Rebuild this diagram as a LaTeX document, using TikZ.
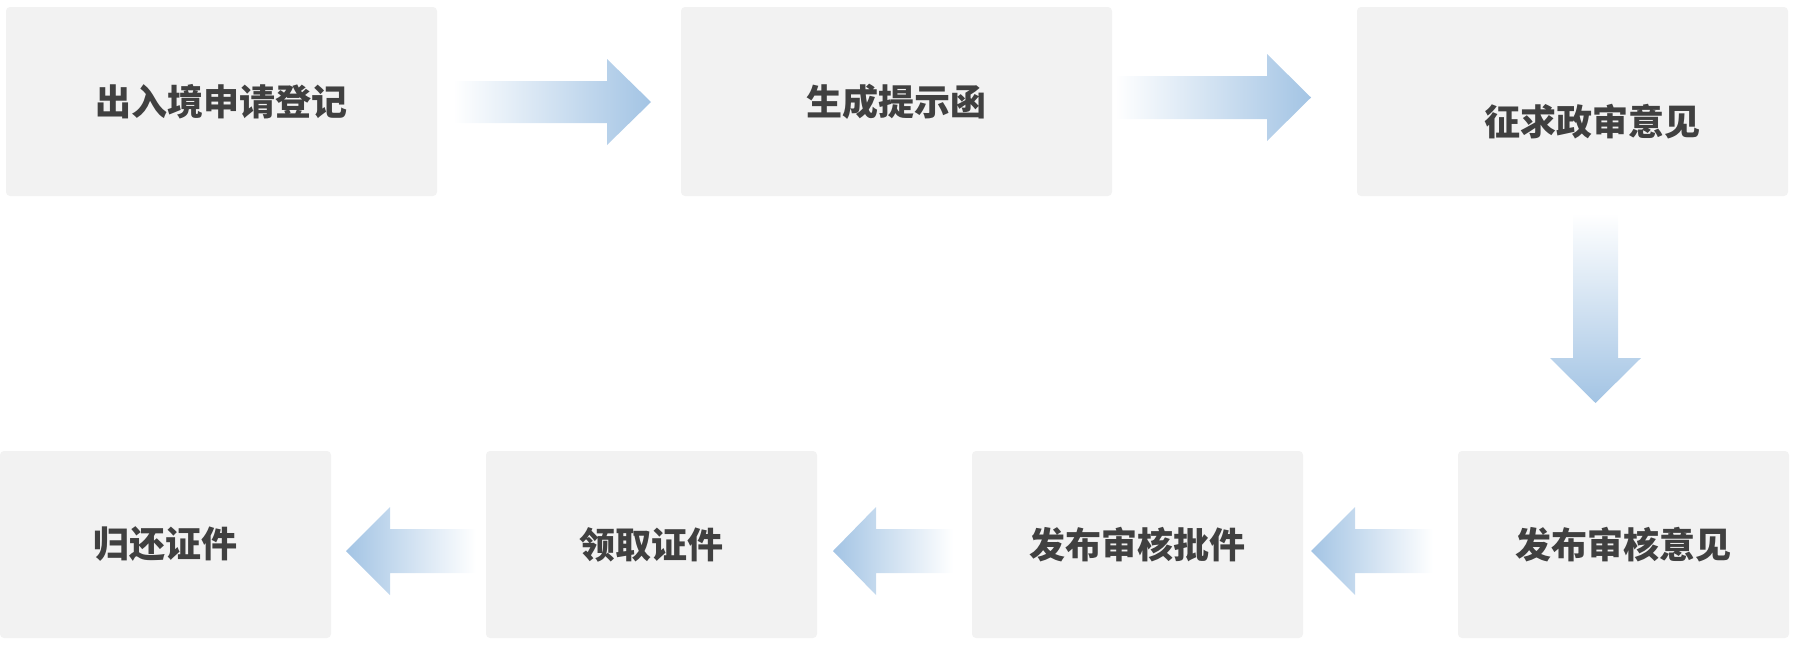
\documentclass[tikz,border=0pt]{standalone}
\usepackage{fontspec}
\newfontfamily\cjk{Noto Sans CJK SC}
\usepackage{tikz}
\usetikzlibrary{calc}

\definecolor{boxgray}{HTML}{F2F2F2}
\definecolor{txtgray}{HTML}{404040}
\definecolor{arrowblue}{HTML}{A3C4E4}

\begin{document}
\begin{tikzpicture}[x=1pt,y=-1pt,
  line join=miter,
  every node/.style={font=\cjk\bfseries\fontsize{36}{40}\selectfont,text=txtgray},
  stepbox/.style={fill=boxgray,rounded corners=4pt,inner sep=0pt},
  topbox/.style={stepbox,minimum width=431pt,minimum height=189pt},
  lowbox/.style={stepbox,minimum width=331pt,minimum height=187pt}]

  \useasboundingbox (0,0) rectangle (1794,656);

  % 上段
  \node[topbox] (reg)  at ( 221.5,101.5) {出入境申请登记};
  \node[topbox] (hint) at ( 896.5,101.5) {生成提示函};
  \node[topbox] (ask)  at (1572.5,101.5) {};
  \node         (askt) at ($(ask.center)+(20,20)$) {征求政审意见};

  % 下段
  \node[lowbox] (back) at ( 165.5,544.5) {归还证件};
  \node[lowbox] (take) at ( 651.5,544.5) {领取证件};
  \node[lowbox] (pass) at (1137.5,544.5) {发布审核批件};
  \node[lowbox] (opin) at (1623.5,544.5) {发布审核意见};

  % 右向き矢印
  \shade[left color=white,right color=arrowblue]
    (453,81) -- (607,81) -- (607,59) -- (651,102)
    -- (607,145) -- (607,123) -- (453,123) -- cycle;
  \shade[left color=white,right color=arrowblue]
    (1115,76) -- (1267,76) -- (1267,54) -- (1311,97.5)
    -- (1267,141) -- (1267,119) -- (1115,119) -- cycle;

  % 下向き矢印
  \shade[top color=white,bottom color=arrowblue]
    (1573,213) -- (1618,213) -- (1618,358) -- (1641,358)
    -- (1595.5,403) -- (1550,358) -- (1573,358) -- cycle;

  % 左向き矢印
  \shade[left color=arrowblue,right color=white]
    (476,529) -- (390,529) -- (390,507) -- (346,551)
    -- (390,595) -- (390,573) -- (476,573) -- cycle;
  \shade[left color=arrowblue,right color=white]
    (953,529) -- (876,529) -- (876,507) -- (833,551)
    -- (876,595) -- (876,573) -- (953,573) -- cycle;
  \shade[left color=arrowblue,right color=white]
    (1433,529) -- (1355,529) -- (1355,507) -- (1311,551)
    -- (1355,595) -- (1355,573) -- (1433,573) -- cycle;

\end{tikzpicture}
\end{document}
